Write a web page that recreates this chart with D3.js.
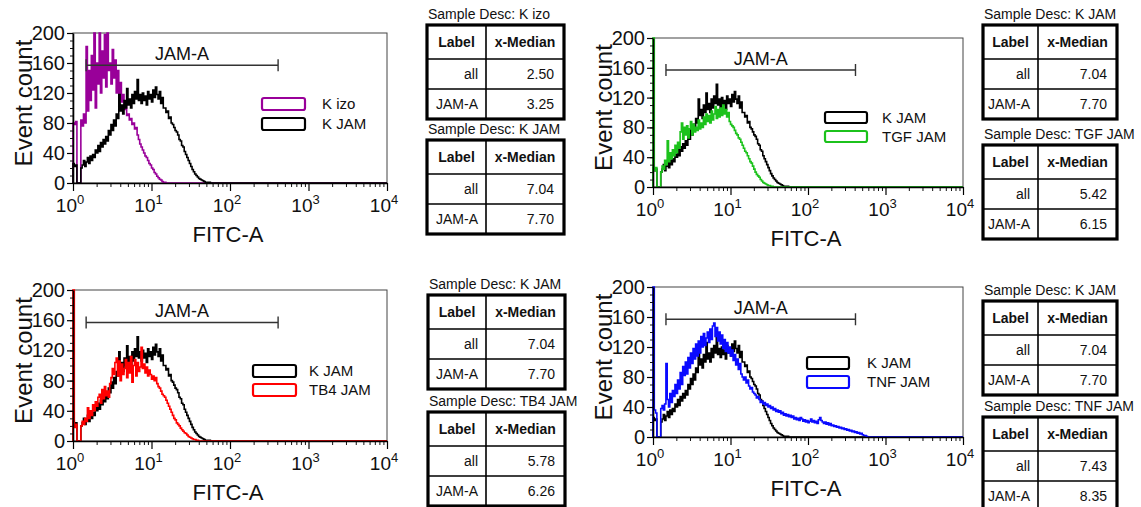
<!DOCTYPE html>
<html>
<head>
<meta charset="utf-8">
<script src="https://cdn.jsdelivr.net/npm/d3@7"></script>
<style>
  body { margin: 0; background: #fff; }
  svg { display: block; }
  text { font-family: Arial, "Liberation Sans", sans-serif; fill: #111; }
</style>
</head>
<body>
<svg id="chart" width="1141" height="507"></svg>
<script>
// histogram channels: 60 bins per decade, starting at 10^0
const binsPerDecade = 60;

const kIzo = [80,78,82, 0,0,0,
  84,76,92,80,
  182,96,150,110,170,124,215,100,160,
  132,215,120,176,140,198,128,215,150,
  160,132,178,140,164,120,150,112,134,
  108,118,98,104,90,92,84,86,78,
  80,72,74,64,58,52,48,44,40,
  36,34,30,26,24,20,18,14,12,
  9,7,5,4,2,1,1,0];

const kJam = [26,22,24,0,0,0,20,
  24,30,22,28,34,26,36,30,38,
  34,44,40,50,42,54,48,58,52,
  62,56,70,64,78,70,84,76,92,
  86,118,96,104,92,110,100,126,104,
  112,100,118,106,122,112,138,110,118,
  106,120,110,116,104,122,112,118,108,
  124,114,128,118,112,122,106,114,100,
  100,94,96,86,88,80,78,74,70,
  68,64,58,56,50,48,42,38,34,
  30,26,22,18,15,12,10,8,6,
  5,4,3,2,1,1,0,1,
  0,0];

const tgfJam = [260,22,26, 0,0,0,20,
  28,24,36,30,62,34,46,38,50,
  42,56,46,60,52,74,86,64,80,
  70,82,66,78,88,70,84,74,80,
  76,90,78,86,80,94,84,98,88,
  96,86,102,90,98,108,92,104,94,
  106,96,110,98,104,94,100,88,84,
  82,80,76,72,70,66,64,60,56,
  52,48,46,42,38,34,32,28,24,
  20,17,15,13,10,8,6,5,4,
  3,2,2,1,1,0];

const tb4Jam = [260,18,22, 0,0,0,20,
  26,22,30,26,44,30,40,34,48,
  40,52,46,58,62,50,68,56,72,
  60,66,58,76,84,96,88,104,110,
  86,106,80,102,88,96,108,84,104,
  90,112,78,100,108,86,104,92,98,
  124,96,102,90,98,86,94,88,82,
  86,80,84,76,72,70,66,62,60,
  58,54,50,46,42,38,34,30,28,
  24,22,20,17,15,13,11,10,8,
  6,5,4,3,2,2,1,1,0];

const tnfJam = [260,36,32, 0,0,0,38,
  42,36,44,98,50,40,58,46,62,
  54,70,58,76,64,86,70,94,82,
  100,84,106,92,112,98,118,104,124,
  108,128,112,134,120,138,122,132,140,
  126,144,130,148,152,134,146,128,140,
  124,136,118,130,114,126,112,120,108,
  116,102,110,96,104,90,98,84,80,
  76,80,72,76,68,64,66,60,58,
  56,52,54,50,46,48,44,46,42,
  44,40,42,38,40,36,38,34,36,
  33,35,31,33,29,31,28,30,27,
  29,26,28,24,26,23,25,22,26,
  24,21,23,20,22,19,21,24,20,
  22,19,21,18,23,26,22,20,18,
  20,17,19,16,18,15,16,14,15,
  13,14,12,13,11,12,10,11,9,
  10,8,9,7,8,6,7,5,6,
  4,5,3,2,2,1,0];

const sampleNames = ['K izo', 'K JAM', 'TGF JAM', 'TB4 JAM', 'TNF JAM'];
const histograms = [kIzo, kJam, tgfJam, tb4Jam, tnfJam];
const medianAll  = ['2.50', '7.04', '5.42', '5.78', '7.43'];
const medianGate = ['3.25', '7.70', '6.15', '6.26', '8.35'];

const yTicks = [0, 40, 80, 120, 160, 200];
const yMinor = d3.range(0, 201, 10);
const xMajor = [1, 10, 100, 1000, 10000];
const gate = {label: 'JAM-A', from: 1.47, to: 410, level: 157};

const sampleColors = ['#990099', '#000000', '#1cc21c', '#ff0000', '#0a0aff'];

const panels = [
  {left: 73, right: 387, top: 33, bottom: 183, samples: [0, 1],
   legend: {x: 262, y: 98, w: 43, h: 12, gap: 20, tx: 322},
   table: {x: 427, w: 137, col1: 59, titles: [14, 129]}},
  {left: 653, right: 963, top: 38, bottom: 187, samples: [1, 2],
   legend: {x: 825, y: 112, w: 42, h: 11, gap: 19, tx: 882},
   table: {x: 983, w: 134, col1: 55, titles: [14, 134]}},
  {left: 73, right: 387, top: 290, bottom: 441, samples: [1, 3],
   legend: {x: 253, y: 365, w: 43, h: 12, gap: 19, tx: 309},
   table: {x: 428, w: 137, col1: 58, titles: [284, 401]}},
  {left: 653, right: 963, top: 287, bottom: 437, samples: [1, 4],
   legend: {x: 807, y: 357, w: 42, h: 12, gap: 19, tx: 867},
   table: {x: 983, w: 134, col1: 55, titles: [290, 406]}}
];

const svg = d3.select('#chart');

panels.forEach(drawPanel);

function drawPanel(p) {
  const g = svg.append('g');
  const x = d3.scaleLog().domain([1, 1e4]).range([p.left, p.right]);
  const y = d3.scaleLinear().domain([0, 200]).range([p.bottom, p.top]).clamp(true);

  // frame
  g.append('rect')
    .attr('x', p.left).attr('y', p.top)
    .attr('width', p.right - p.left).attr('height', p.bottom - p.top)
    .attr('fill', 'none').attr('stroke', '#444').attr('stroke-width', 1);

  // histograms, drawn in legend order (last on top)
  const line = d3.line().x(d => x(d[0])).y(d => y(d[1])).curve(d3.curveStepAfter);
  p.samples.forEach(si => {
    const counts = histograms[si];
    const pts = [[1, 0]];
    counts.forEach((c, i) => pts.push([Math.pow(10, i / binsPerDecade), c]));
    pts.push([Math.pow(10, counts.length / binsPerDecade), 0]);
    pts.push([1e4, 0]);
    g.append('path')
      .attr('d', line(pts))
      .attr('fill', 'none')
      .attr('stroke', sampleColors[si])
      .attr('stroke-width', 1.6);
  });

  // y axis: minor then major with labels
  g.append('g')
    .attr('transform', `translate(${p.left},0)`)
    .call(d3.axisLeft(y).tickValues(yMinor).tickSize(3).tickFormat(''))
    .call(a => a.select('.domain').remove())
    .selectAll('line').attr('stroke', '#111');
  const ya = g.append('g')
    .attr('transform', `translate(${p.left},0)`)
    .call(d3.axisLeft(y).tickValues(yTicks).tickSize(6).tickSizeOuter(0).tickPadding(2));
  ya.select('.domain').attr('stroke', '#000').attr('stroke-width', 1.6);
  ya.selectAll('line').attr('stroke', '#000').attr('stroke-width', 1.2);
  ya.selectAll('text').attr('font-size', 20).attr('fill', '#111')
    .attr('font-family', 'Arial, "Liberation Sans", sans-serif');

  // x axis: log ticks
  const xMinor = [];
  for (let d = 1; d < 1e4; d *= 10) for (let k = 2; k <= 9; k++) xMinor.push(d * k);
  g.append('g')
    .attr('transform', `translate(0,${p.bottom})`)
    .call(d3.axisBottom(x).tickValues(xMinor).tickSize(4).tickFormat(''))
    .call(a => a.select('.domain').remove())
    .selectAll('line').attr('stroke', '#111');
  const xa = g.append('g')
    .attr('transform', `translate(0,${p.bottom})`)
    .call(d3.axisBottom(x).tickValues(xMajor).tickSize(8).tickSizeOuter(0).tickFormat(''));
  xa.select('.domain').attr('stroke', '#000').attr('stroke-width', 1.6);
  xa.selectAll('line').attr('stroke', '#000').attr('stroke-width', 1.2);

  const xl = g.selectAll('text.xlab').data(xMajor).enter().append('text')
    .attr('class', 'xlab')
    .attr('x', d => x(d) - 3)
    .attr('y', p.bottom + 29)
    .attr('text-anchor', 'middle')
    .attr('font-size', 19);
  xl.append('tspan').text('10');
  xl.append('tspan').attr('dy', -8).attr('font-size', 13).text(d => Math.round(Math.log10(d)));

  // axis titles
  g.append('text')
    .attr('x', (p.left + p.right) / 2 - 2)
    .attr('y', p.bottom + 59)
    .attr('text-anchor', 'middle')
    .attr('font-size', 22)
    .text('FITC-A');
  g.append('text')
    .attr('transform', `translate(${p.left - 41},${(p.top + p.bottom) / 2 - 5}) rotate(-90)`)
    .attr('text-anchor', 'middle')
    .attr('font-size', 24)
    .text('Event count');

  // gate marker
  const gy = y(gate.level);
  const gx1 = x(gate.from), gx2 = x(gate.to);
  g.append('path')
    .attr('d', `M${gx1},${gy}H${gx2}M${gx1},${gy - 6}V${gy + 6}M${gx2},${gy - 6}V${gy + 6}`)
    .attr('fill', 'none').attr('stroke', '#333').attr('stroke-width', 1.4);
  g.append('text')
    .attr('x', (gx1 + gx2) / 2)
    .attr('y', gy - 5)
    .attr('text-anchor', 'middle')
    .attr('font-size', 18)
    .text(gate.label);

  // legend
  p.samples.forEach((si, k) => {
    const ly = p.legend.y + k * p.legend.gap;
    g.append('rect')
      .attr('x', p.legend.x).attr('y', ly)
      .attr('width', p.legend.w).attr('height', p.legend.h)
      .attr('rx', 2)
      .attr('fill', '#fff').attr('stroke', sampleColors[si]).attr('stroke-width', 2.2);
    g.append('text')
      .attr('x', p.legend.tx).attr('y', ly + p.legend.h / 2 + 5)
      .attr('font-size', 15).attr('fill', '#222')
      .text(sampleNames[si]);
  });

  // median tables
  p.samples.forEach((si, k) => drawTable(p.table, p.table.titles[k], si));
}

function drawTable(t, titleY, si) {
  const g = svg.append('g');
  const top = titleY + 11;
  const hdr = 34, row = 30;
  const h = hdr + 2 * row;
  g.append('text')
    .attr('x', t.x + 1).attr('y', titleY + 5)
    .attr('font-size', 14)
    .text('Sample Desc: ' + sampleNames[si]);

  // inner grid
  g.append('path')
    .attr('d', `M${t.x + t.col1},${top}V${top + h}` +
               `M${t.x},${top + hdr}H${t.x + t.w}` +
               `M${t.x},${top + hdr + row}H${t.x + t.w}`)
    .attr('stroke', '#000').attr('stroke-width', 1.6).attr('fill', 'none');
  g.append('rect')
    .attr('x', t.x).attr('y', top).attr('width', t.w).attr('height', h)
    .attr('fill', 'none').attr('stroke', '#000').attr('stroke-width', 3.2);

  const c1 = t.x + t.col1;
  const cells = [
    {x: t.x + t.col1 / 2, y: top + hdr / 2, a: 'middle', b: true, s: 'Label'},
    {x: (c1 + t.x + t.w) / 2, y: top + hdr / 2, a: 'middle', b: true, s: 'x-Median'},
    {x: c1 - 8, y: top + hdr + row / 2, a: 'end', b: false, s: 'all'},
    {x: t.x + t.w - 10, y: top + hdr + row / 2, a: 'end', b: false, s: medianAll[si]},
    {x: c1 - 8, y: top + hdr + row * 1.5, a: 'end', b: false, s: gate.label},
    {x: t.x + t.w - 10, y: top + hdr + row * 1.5, a: 'end', b: false, s: medianGate[si]}
  ];
  g.selectAll('text.cell').data(cells).enter().append('text')
    .attr('class', 'cell')
    .attr('x', d => d.x).attr('y', d => d.y + 5)
    .attr('text-anchor', d => d.a)
    .attr('font-weight', d => d.b ? 'bold' : 'normal')
    .attr('font-size', 14)
    .text(d => d.s);
}
</script>
</body>
</html>
